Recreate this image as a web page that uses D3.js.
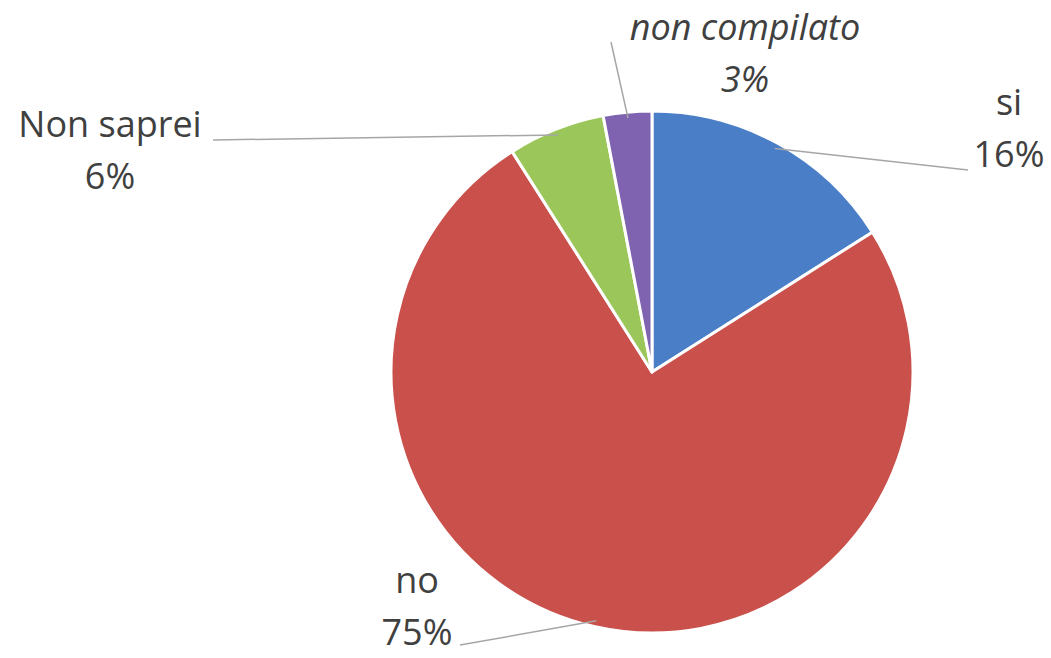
<!DOCTYPE html>
<html>
<head>
<meta charset="utf-8">
<script src="https://cdn.jsdelivr.net/npm/d3@7"></script>
<style>
  html, body { margin: 0; padding: 0; background: #fff; }
  svg { display: block; }
  .lbl { font-family: "Open Sans", sans-serif; font-size: 36px; fill: #404040; }
</style>
</head>
<body>
<div id="chart"></div>
<script>
// Data
const categories = ["si", "no", "Non saprei", "non compilato"];
const values = [16, 75, 6, 3];
const percentLabels = ["16%", "75%", "6%", "3%"];
const colors = ["#4a7fc8", "#c9504b", "#9bc65a", "#7f62b0"];

// Layout
const W = 1051, H = 658;
const cx = 652, cy = 372, radius = 261;

// label placement (centre x, baseline of first line) and leader end point
const labelPos = [
  { x: 1009, y: 115, lx: 968, ly: 170, italic: false },
  { x: 417, y: 593, lx: 460, ly: 645, italic: false },
  { x: 110, y: 137, lx: 213, ly: 140, italic: false },
  { x: 745, y: 40, lx: 611, ly: 42, italic: true }
];

const svg = d3.select("#chart")
  .append("svg")
  .attr("width", W)
  .attr("height", H);

const g = svg.append("g")
  .attr("transform", `translate(${cx},${cy})`);

const pie = d3.pie().sort(null).value(d => d);
const arcs = pie(values);

const arc = d3.arc().innerRadius(0).outerRadius(radius);

// Slices
g.selectAll("path.slice")
  .data(arcs)
  .enter()
  .append("path")
  .attr("class", "slice")
  .attr("d", arc)
  .attr("fill", (d, i) => colors[i])
  .attr("stroke", "#fff")
  .attr("stroke-width", 3)
  .attr("stroke-linejoin", "round");

// Leader lines: from a point just inside the slice edge to the label
const edgeArc = d3.arc().innerRadius(radius - 6).outerRadius(radius - 6);
arcs.forEach((d, i) => {
  const p = edgeArc.centroid(d);
  const lp = labelPos[i];
  svg.append("line")
    .attr("x1", p[0] + cx)
    .attr("y1", p[1] + cy)
    .attr("x2", lp.lx)
    .attr("y2", lp.ly)
    .attr("stroke", "#a6a6a6")
    .attr("stroke-width", 1.5);
});

// Labels (category + percent)
categories.forEach((c, i) => {
  const lp = labelPos[i];
  const t = svg.append("text")
    .attr("class", "lbl")
    .attr("text-anchor", "middle")
    .style("font-style", lp.italic ? "italic" : "normal");
  t.append("tspan").attr("x", lp.x).attr("y", lp.y).text(c);
  t.append("tspan").attr("x", lp.x).attr("y", lp.y + 52).text(percentLabels[i]);
});
</script>
</body>
</html>
